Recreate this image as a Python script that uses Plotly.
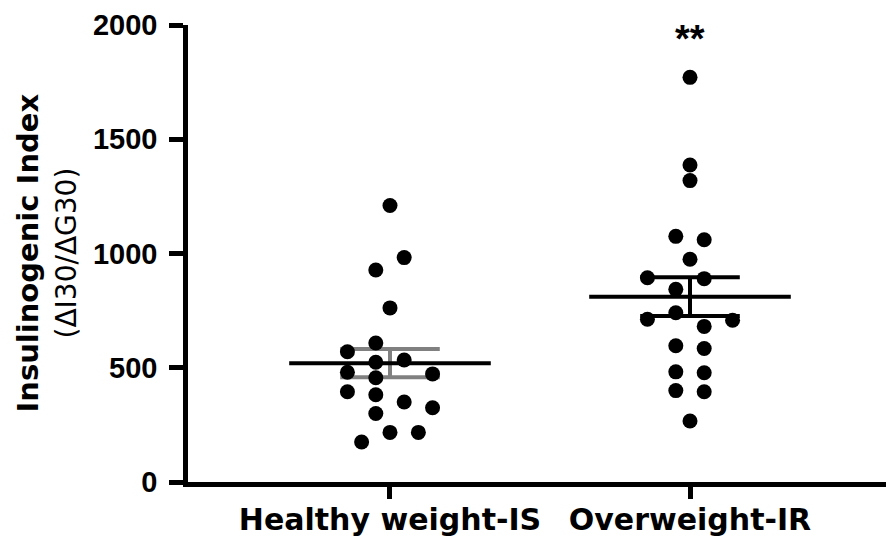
import plotly.graph_objects as go

# ---- data ----
categories = ["Healthy weight-IS", "Overweight-IR"]
healthy_values = [1210, 982, 928, 762, 608, 570, 524, 534, 480, 456, 473,
                  395, 382, 350, 325, 300, 217, 217, 175]
healthy_slots = [0, 1, -1, 0, -1, -3, -1, 1, -3, -1, 3, -3, -1, 1, 3, -1, 0, 2, -2]
overweight_values = [1771, 1387, 1319, 1075, 1060, 975, 894, 890, 843, 741,
                     712, 708, 681, 596, 584, 482, 478, 400, 395, 267]
overweight_slots = [0, 0, 0, -1, 1, 0, -3, 1, -1, -1, -3, 3, 1, -1, 1, -1, 1, -1, 1, 0]
group_means = [520, 811]
group_sems = [62, 85]
y_ticks = [0, 500, 1000, 1500, 2000]
significance = "**"

# ---- styling ----
SLOT_STEP = 0.0473
MEAN_HALF = 0.336
CAP_HALF = 0.166
err_colors = ["#808080", "#000000"]
WORD_FONT = "DejaVu Sans"
NUM_FONT = "Liberation Sans, Arial"

# page body has an 8px margin; figure sized to fill the rest of the window
FIG_W, FIG_H = 886, 533
M_L, M_T, M_B, M_R = 180, 17, 59, 0
PLOT_W = FIG_W - M_L - M_R

fig = go.Figure()

groups = [(healthy_values, healthy_slots), (overweight_values, overweight_slots)]

# error bars (SEM)
for i, (m, s) in enumerate(zip(group_means, group_sems)):
    c = err_colors[i]
    for yv in (m + s, m - s):
        fig.add_trace(go.Scatter(x=[i - CAP_HALF, i + CAP_HALF], y=[yv, yv], mode="lines",
                                 line=dict(color=c, width=4), hoverinfo="skip", showlegend=False))
    fig.add_trace(go.Scatter(x=[i, i], y=[m - s, m + s], mode="lines",
                             line=dict(color=c, width=4), hoverinfo="skip", showlegend=False))

# mean lines
for i, m in enumerate(group_means):
    fig.add_trace(go.Scatter(x=[i - MEAN_HALF, i + MEAN_HALF], y=[m, m], mode="lines",
                             line=dict(color="black", width=4), hoverinfo="skip", showlegend=False))

# points
for i, (vals, slots) in enumerate(groups):
    fig.add_trace(go.Scatter(x=[i + s * SLOT_STEP for s in slots], y=vals, mode="markers",
                             marker=dict(color="black", size=15, line=dict(width=0)),
                             name=categories[i], showlegend=False))

fig.add_annotation(x=1, y=1940, xref="x", yref="y", text=significance, showarrow=False,
                   font=dict(family=NUM_FONT, size=38, color="black", weight="bold"),
                   yanchor="middle")

# y titles
fig.add_annotation(x=-(M_L - 19) / PLOT_W, y=0.5, xref="paper", yref="paper",
                   xanchor="center", yanchor="middle",
                   text="<b>Insulinogenic Index</b>", textangle=-90, showarrow=False,
                   font=dict(family=WORD_FONT, size=29, color="black"))
fig.add_annotation(x=-(M_L - 58) / PLOT_W, y=0.5, xref="paper", yref="paper",
                   xanchor="center", yanchor="middle",
                   text="(ΔI30/ΔG30)", textangle=-90, showarrow=False,
                   font=dict(family=WORD_FONT, size=28, color="black"))

fig.update_layout(
    width=FIG_W, height=FIG_H,
    margin=dict(l=M_L, r=M_R, t=M_T, b=M_B),
    plot_bgcolor="white", paper_bgcolor="white",
    showlegend=False,
    xaxis=dict(range=[-0.6733, 1.68], tickvals=[0, 1], ticktext=categories,
               showgrid=False, zeroline=False, showline=True, linecolor="black", linewidth=4.5,
               ticks="outside", ticklen=12, tickwidth=4.5, tickcolor="black",
               ticklabeloverflow="allow", ticklabelstandoff=-5, automargin=False,
               tickfont=dict(family=WORD_FONT, size=30, color="black", weight="bold")),
    yaxis=dict(range=[0, 2000], tickvals=y_ticks, ticktext=[str(v) for v in y_ticks],
               showgrid=False, zeroline=False, showline=True, linecolor="black", linewidth=4.5,
               ticks="outside", ticklen=14, tickwidth=4.5, tickcolor="black",
               ticklabelstandoff=6, ticklabeloverflow="allow", automargin=False,
               tickfont=dict(family=NUM_FONT, size=29, color="black", weight="bold")),
)

fig.write_html("out.html")
